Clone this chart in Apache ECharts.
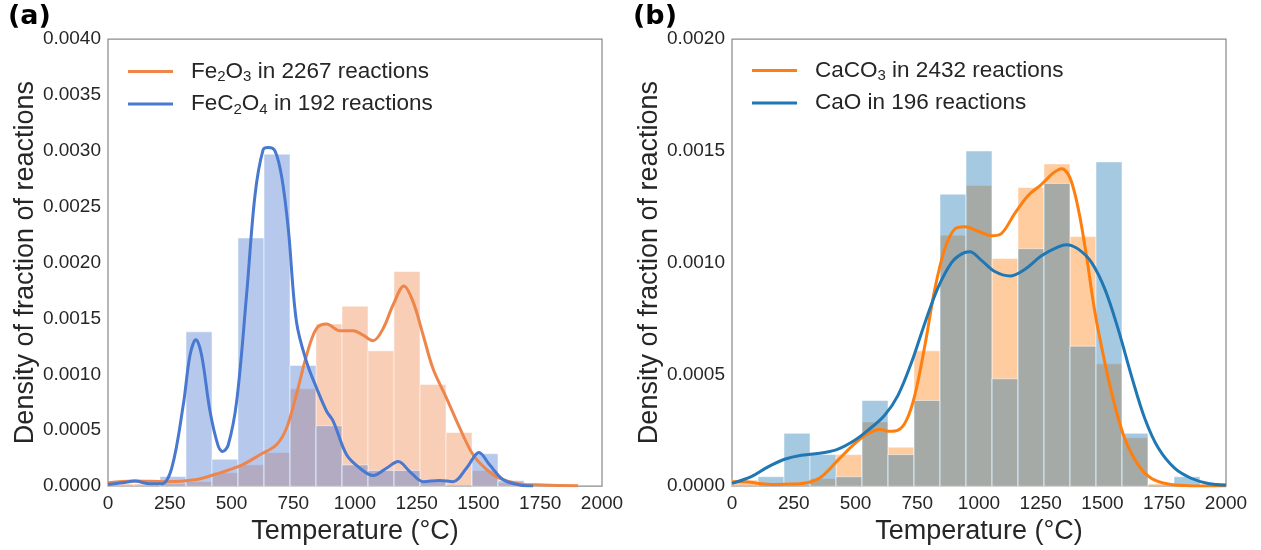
<!DOCTYPE html>
<html>
<head>
<meta charset="utf-8">
<script src="https://cdn.jsdelivr.net/npm/echarts@6/dist/echarts.min.js"></script>
<style>
html,body{margin:0;padding:0;background:#fff;}
#chart{width:1261px;height:550px;}
</style>
</head>
<body>
<div id="chart"></div>
<script>
// ---- data ----
const binEdges = [0,105.3,210.5,315.8,421.1,526.3,631.6,736.8,842.1,947.4,1052.6,1157.9,1263.2,1368.4,1473.7,1578.9,1684.2,1789.5,1894.7,2000];
const xTicks = [0,250,500,750,1000,1250,1500,1750,2000];

// panel (a)
const fe2o3Name = 'Fe2O3 in 2267 reactions';
const fec2o4Name = 'FeC2O4 in 192 reactions';
const fe2o3Hist = [0.00002,0.00002,0.00002,0.00004,0.00012,0.00019,0.00030,0.00087,0.00145,0.00161,0.00121,0.00192,0.00091,0.00048,0.00014,0.00003,0.00001,0.00001,0];
const fec2o4Hist = [0,0,0.000086,0.00138,0.00024,0.00222,0.00297,0.00108,0.00054,0.00019,0.00014,0.00014,0.00004,0,0.00029,0.00005,0,0,0];
const fe2o3Kde = [[0,0.00003],[102,0.000045],[237,0.00004],[359,0.00006],[426,0.0001],[534,0.00018],[615,0.00028],[682,0.00037],[723,0.00052],[763,0.00082],[804,0.00117],[844,0.00141],[885,0.00145],[939,0.00139],[993,0.00139],[1033,0.00135],[1073,0.0013],[1114,0.00141],[1154,0.00162],[1198,0.00179],[1235,0.00165],[1276,0.00135],[1316,0.00105],[1370,0.00079],[1424,0.00052],[1478,0.00028],[1532,0.00015],[1586,0.00007],[1667,0.00002],[1761,0.00001],[1903,0.000003]];
const fec2o4Kde = [[0,0.000015],[60,0.00003],[109,0.000045],[170,0.00002],[217,0.00002],[258,0.00016],[305,0.00073],[332,0.00117],[356,0.00131],[379,0.00117],[413,0.00067],[446,0.00036],[464,0.00031],[487,0.00037],[521,0.00076],[561,0.00171],[595,0.0026],[628,0.00301],[649,0.00303],[676,0.003],[703,0.00277],[730,0.0023],[763,0.00147],[804,0.00111],[844,0.00088],[885,0.00067],[912,0.00058],[966,0.00028],[1020,0.00016],[1073,0.000095],[1127,0.00016],[1175,0.00022],[1222,0.00013],[1276,0.00004],[1343,0.00005],[1397,0.00004],[1451,0.00016],[1502,0.0003],[1545,0.00019],[1599,0.00006],[1667,0.00001],[1721,0.000002]];

// panel (b)
const caco3Name = 'CaCO3 in 2432 reactions';
const caoName = 'CaO in 196 reactions';
const caco3Hist = [0.000027,0,0,0.000034,0.000141,0.000287,0.000174,0.000605,0.001122,0.001345,0.001018,0.001336,0.001441,0.001116,0.000547,0.000216,0.00001,0,0];
const caoHist = [0,0.000042,0.000236,0.000141,0.000042,0.000383,0.000141,0.000383,0.001306,0.001499,0.00048,0.001062,0.001354,0.000626,0.00145,0.000236,0,0.000042,0];
const caco3Kde = [[0,0.000019],[51,0.00002],[105,0.000012],[173,0.000007],[240,0.000009],[308,0.000016],[362,0.000042],[429,0.000116],[497,0.00019],[551,0.000235],[598,0.000253],[639,0.000245],[672,0.00025],[706,0.000294],[740,0.000406],[781,0.00063],[821,0.00088],[861,0.00106],[902,0.00115],[943,0.00116],[997,0.00114],[1051,0.00112],[1091,0.00113],[1145,0.00122],[1199,0.0013],[1253,0.00135],[1300,0.0014],[1334,0.00142],[1368,0.00138],[1402,0.00124],[1435,0.00103],[1469,0.00078],[1510,0.00055],[1550,0.00036],[1591,0.00021],[1645,0.000094],[1699,0.000034],[1766,0.000009],[1861,0.000001],[2000,0]];
const caoKde = [[0,0.000012],[78,0.000042],[146,0.000086],[213,0.00012],[281,0.000138],[375,0.00015],[429,0.000165],[497,0.000205],[551,0.00025],[618,0.000317],[672,0.000406],[727,0.000554],[781,0.00073],[835,0.00089],[889,0.001],[932,0.00104],[963,0.001048],[1010,0.00101],[1064,0.00096],[1125,0.00094],[1186,0.00097],[1253,0.00103],[1321,0.00107],[1354,0.00108],[1402,0.00106],[1456,0.001],[1510,0.00088],[1564,0.0007],[1618,0.00049],[1672,0.0003],[1726,0.00017],[1793,0.000079],[1861,0.000034],[1928,0.000012],[2000,0.0000045]];

// ---- styling ----
const TXT = '#262626';
const FONT = 'Liberation Sans, Arial, sans-serif';
const colA1 = '#ee854a', colA2 = '#4878d0';
const colB1 = '#ff7f0e', colB2 = '#1f77b4';
const rgba = (hex, a) => {
  const n = parseInt(hex.slice(1), 16);
  return 'rgba(' + (n >> 16) + ',' + ((n >> 8) & 255) + ',' + (n & 255) + ',' + a + ')';
};

function histSeries(vals, color, idx) {
  return {
    type: 'custom', xAxisIndex: idx, yAxisIndex: idx, z: 2,
    data: vals.map((v, i) => [binEdges[i], binEdges[i + 1], v]),
    encode: { x: [0, 1], y: 2 },
    renderItem: function (params, api) {
      const h = api.value(2);
      if (!h) return null;
      const a = api.coord([api.value(0), h]);
      const b = api.coord([api.value(1), 0]);
      return {
        type: 'rect',
        shape: { x: a[0], y: a[1], width: b[0] - a[0], height: b[1] - a[1] },
        style: { fill: rgba(color, 0.4), stroke: 'rgba(255,255,255,0.5)', lineWidth: 1 }
      };
    },
    silent: true
  };
}
function lineSeries(name, data, color, idx) {
  return {
    type: 'line', name: name, xAxisIndex: idx, yAxisIndex: idx, z: 5,
    data: data, smooth: 0.35, symbol: 'none', showSymbol: false,
    lineStyle: { color: color, width: 3 }, itemStyle: { color: color }
  };
}
function richName(n) {
  return '{g| }{n|' + n.replace(/([A-Za-z])(\d)/g, '$1}{s|$2}{n|') + '}';
}
const richStyles = {
  g: { width: 13 },
  n: { fontSize: 22.5, lineHeight: 26, color: TXT, fontFamily: FONT },
  s: { fontSize: 15, lineHeight: 4, verticalAlign: 'bottom', color: TXT, fontFamily: FONT }
};
function makeLegend(names, left, top) {
  return {
    orient: 'vertical', left: left, top: top, itemWidth: 45, itemHeight: 3, itemGap: 8,
    icon: 'rect',
    data: names, formatter: richName,
    textStyle: { rich: richStyles, color: TXT, fontSize: 22.5, fontFamily: FONT }
  };
}
function xAx(idx) {
  return {
    type: 'value', gridIndex: idx, min: 0, max: 2000, interval: 250,
    name: 'Temperature (°C)', nameLocation: 'middle', nameGap: 24,
    nameTextStyle: { fontSize: 27, color: TXT, fontFamily: FONT },
    axisLine: { show: false }, axisTick: { show: false }, splitLine: { show: false },
    axisLabel: { fontSize: 19, color: TXT, fontFamily: FONT, margin: 8, formatter: v => String(v) }
  };
}
function yAx(idx, max) {
  return {
    type: 'value', gridIndex: idx, min: 0, max: max, interval: 0.0005,
    name: 'Density of fraction of reactions', nameLocation: 'middle', nameGap: 69,
    nameTextStyle: { fontSize: 27, color: TXT, fontFamily: FONT },
    axisLine: { show: false }, axisTick: { show: false }, splitLine: { show: false },
    axisLabel: { fontSize: 19, color: TXT, fontFamily: FONT, margin: 7, formatter: v => v.toFixed(4) }
  };
}

const chart = echarts.init(document.getElementById('chart'), null, { renderer: 'canvas' });
chart.setOption({
  animation: false,
  backgroundColor: '#fff',
  grid: [
    { left: 108, top: 39, width: 494, height: 449, show: true, borderColor: '#8c8c8c', borderWidth: 1.25, backgroundColor: 'transparent' },
    { left: 732, top: 39, width: 494, height: 449, show: true, borderColor: '#8c8c8c', borderWidth: 1.25, backgroundColor: 'transparent' }
  ],
  xAxis: [xAx(0), xAx(1)],
  yAxis: [yAx(0, 0.004), yAx(1, 0.002)],
  legend: [
    makeLegend([fe2o3Name, fec2o4Name], 123, 55),
    makeLegend([caco3Name, caoName], 747, 54)
  ],
  graphic: [
    { type: 'text', left: 8, top: 3, style: { text: '(a)', fontSize: 27, fontWeight: 'bold', fontFamily: 'DejaVu Sans', fill: '#000' } },
    { type: 'text', left: 633, top: 3, style: { text: '(b)', fontSize: 27, fontWeight: 'bold', fontFamily: 'DejaVu Sans', fill: '#000' } }
  ],
  series: [
    histSeries(fe2o3Hist, colA1, 0),
    histSeries(fec2o4Hist, colA2, 0),
    lineSeries(fe2o3Name, fe2o3Kde, colA1, 0),
    lineSeries(fec2o4Name, fec2o4Kde, colA2, 0),
    histSeries(caco3Hist, colB1, 1),
    histSeries(caoHist, colB2, 1),
    lineSeries(caco3Name, caco3Kde, colB1, 1),
    lineSeries(caoName, caoKde, colB2, 1)
  ]
});
</script>
</body>
</html>
